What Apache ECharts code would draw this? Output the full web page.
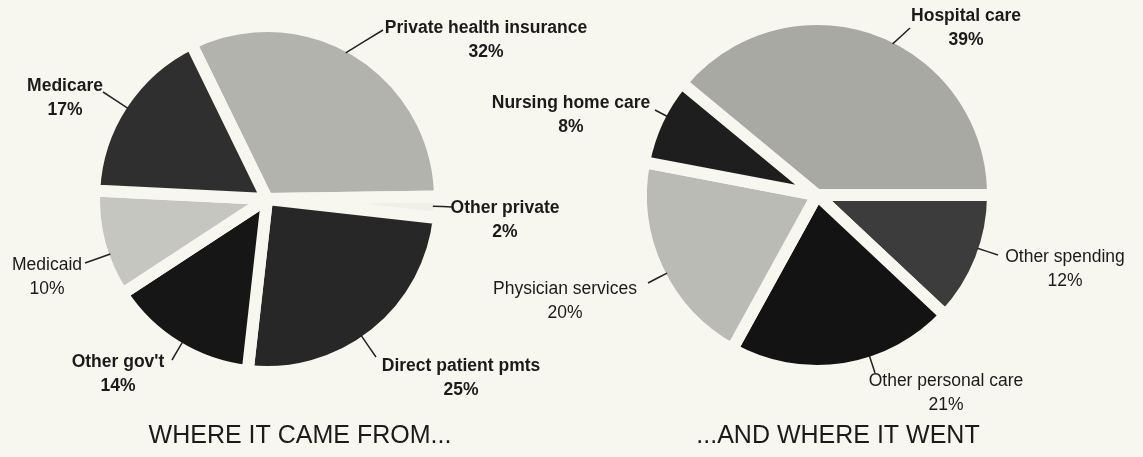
<!DOCTYPE html>
<html>
<head>
<meta charset="utf-8">
<script src="https://cdn.jsdelivr.net/npm/echarts@6/dist/echarts.min.js"></script>
<style>
  html, body { margin: 0; padding: 0; background: #f7f6ef; }
  #chart { width: 1143px; height: 457px; }
</style>
</head>
<body>
<div id="chart"></div>
<script>
// ---- data ----
const sourceNames = ['Private health insurance', 'Other private', 'Direct patient pmts', "Other gov't", 'Medicaid', 'Medicare'];
const sourceValues = [32, 2, 25, 14, 10, 17];
const useNames = ['Hospital care', 'Other spending', 'Other personal care', 'Physician services', 'Nursing home care'];
const useValues = [39, 12, 21, 20, 8];
const titles = ['WHERE IT CAME FROM...', '...AND WHERE IT WENT'];

// ---- layout / style ----
const BG = '#f7f6ef';
const FONT = "'Liberation Sans', Arial, Helvetica, sans-serif";
const GAP = 12;
const pieGeom = [
  { center: [267, 199], r: 167, start: 116 },
  { center: [817, 195], r: 170, start: 140.4 }
];
const sourceColors = ['#b3b3ae', '#efeee7', '#272727', '#161616', '#c6c6c1', '#2f2f2f'];
const useColors = ['#a9a9a4', '#3c3c3c', '#131313', '#bbbbb6', '#1e1e1e'];
// label block centre (x,y), leader line end (lx,ly), optional angle (deg) where
// the leader touches the pie, bold flag
const labelPlace = {
  'Private health insurance': { x: 486, y: 40, lx: 383, ly: 30, sa: 61.7, b: 1 },
  'Other private': { x: 505, y: 220, lx: 452, ly: 207, b: 1 },
  'Direct patient pmts': { x: 461, y: 378, lx: 376, ly: 357, b: 1 },
  "Other gov't": { x: 118, y: 374, lx: 172, ly: 360, b: 1 },
  'Medicaid': { x: 47, y: 277, lx: 85, ly: 263, b: 0 },
  'Medicare': { x: 65, y: 98, lx: 103, ly: 92, b: 1 },
  'Hospital care': { x: 966, y: 28, lx: 910, ly: 28, sa: 63.4, b: 1 },
  'Other spending': { x: 1065, y: 269, lx: 998, ly: 255, b: 0 },
  'Other personal care': { x: 946, y: 393, lx: 875, ly: 373, b: 0 },
  'Physician services': { x: 565, y: 301, lx: 648, ly: 283, b: 0 },
  'Nursing home care': { x: 571, y: 115, lx: 655, ly: 110, b: 1 }
};

function buildData(names, values, colors) {
  return names.map((n, i) => ({
    name: n,
    value: values[i],
    itemStyle: { color: colors ? colors[i] : 'rgba(0,0,0,0)' },
    label: { fontWeight: labelPlace[n].b ? 'bold' : 'normal' }
  }));
}

function makeLayout(geom, names) {
  return function (params) {
    const p = labelPlace[names[params.dataIndex]];
    let ux, uy;
    if (p.sa != null) {
      ux = Math.cos(p.sa * Math.PI / 180);
      uy = -Math.sin(p.sa * Math.PI / 180);
    } else {
      const dx = p.lx - geom.center[0], dy = p.ly - geom.center[1];
      const d = Math.sqrt(dx * dx + dy * dy);
      ux = dx / d; uy = dy / d;
    }
    const sx = geom.center[0] + ux * (geom.r - 1);
    const sy = geom.center[1] + uy * (geom.r - 1);
    return {
      x: p.x, y: p.y, align: 'center', verticalAlign: 'middle',
      labelLinePoints: [[sx, sy], [(sx + p.lx) / 2, (sy + p.ly) / 2], [p.lx, p.ly]]
    };
  };
}

// visible slices (white gaps drawn as background-coloured borders)
function sliceSeries(geom, names, values, colors) {
  return {
    type: 'pie',
    z: 2,
    center: geom.center,
    radius: [0, geom.r + GAP / 2],
    startAngle: geom.start,
    clockwise: true,
    silent: true,
    animation: false,
    data: buildData(names, values, colors),
    itemStyle: { borderColor: BG, borderWidth: GAP, borderJoin: 'bevel' },
    label: { show: false },
    labelLine: { show: false },
    emphasis: { disabled: true }
  };
}

// transparent twin on top that carries the labels and leader lines
function labelSeries(geom, names, values) {
  return {
    type: 'pie',
    z: 3,
    center: geom.center,
    radius: [0, geom.r],
    startAngle: geom.start,
    clockwise: true,
    avoidLabelOverlap: false,
    silent: true,
    animation: false,
    data: buildData(names, values, null),
    itemStyle: { borderWidth: 0 },
    label: {
      show: true,
      position: 'outside',
      formatter: '{b}\n{c}%',
      fontFamily: FONT,
      fontSize: 17.5,
      lineHeight: 24,
      color: '#1b1b1b',
      opacity: 1
    },
    labelLine: { show: true, showAbove: true, smooth: false,
      lineStyle: { color: '#222', width: 1.5, opacity: 1 } },
    labelLayout: makeLayout(geom, names),
    emphasis: { disabled: true }
  };
}

const chart = echarts.init(document.getElementById('chart'), null, { renderer: 'canvas' });
chart.setOption({
  backgroundColor: BG,
  animation: false,
  title: [
    { text: titles[0], left: 300, top: 424, textAlign: 'center', padding: 0,
      textStyle: { fontFamily: FONT, fontSize: 25, fontWeight: 'normal', color: '#1b1b1b' } },
    { text: titles[1], left: 838, top: 424, textAlign: 'center', padding: 0,
      textStyle: { fontFamily: FONT, fontSize: 25, fontWeight: 'normal', color: '#1b1b1b' } }
  ],
  series: [
    sliceSeries(pieGeom[0], sourceNames, sourceValues, sourceColors),
    sliceSeries(pieGeom[1], useNames, useValues, useColors),
    labelSeries(pieGeom[0], sourceNames, sourceValues),
    labelSeries(pieGeom[1], useNames, useValues)
  ]
});
</script>
</body>
</html>
